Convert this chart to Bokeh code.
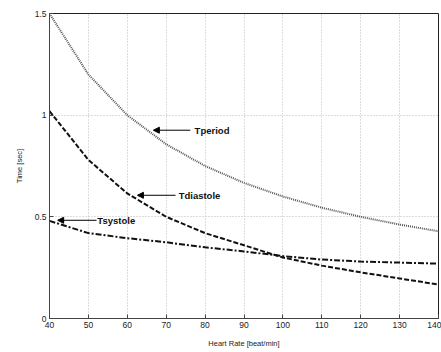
from bokeh.plotting import figure
from bokeh.models import Arrow, NormalHead, Label, FixedTicker, Range1d
from bokeh.embed import file_html
from bokeh.resources import INLINE

# Cardiac cycle timing versus heart rate
heart_rate = [40, 50, 60, 70, 80, 90, 100, 110, 120, 130, 140]
t_period = [1.5, 1.2, 1.0, 0.857, 0.75, 0.667, 0.6, 0.545, 0.5, 0.462, 0.429]
t_systole = [0.48, 0.42, 0.395, 0.375, 0.35, 0.33, 0.307, 0.29, 0.28, 0.275, 0.27]
t_diastole = [1.02, 0.78, 0.615, 0.50, 0.42, 0.36, 0.30, 0.26, 0.227, 0.197, 0.167]

x_ticks = [40, 50, 60, 70, 80, 90, 100, 110, 120, 130, 140]
y_ticks = [0, 0.5, 1, 1.5]
y_tick_labels = {0: "0", 0.5: "0.5", 1: "1", 1.5: "1.5"}

# Callout labels: name, text x, arrow tail x, arrow head x, y
callouts = [
    ("Tperiod", 77.3, 76.2, 66.7, 0.926),
    ("Tdiastole", 73.2, 72.4, 62.6, 0.606),
    ("Tsystole", 52.3, 52.1, 42.1, 0.483),
]

FONT = "Liberation Sans"

p = figure(width=441, height=352, output_backend="svg", toolbar_location=None,
           x_range=Range1d(40, 140), y_range=Range1d(0, 1.5),
           min_border_left=49, min_border_right=3, min_border_top=13,
           min_border_bottom=34)
p.background_fill_color = "white"
p.border_fill_color = "white"
p.outline_line_color = "#222222"
p.outline_line_width = 1

p.xaxis.ticker = FixedTicker(ticks=x_ticks)
p.yaxis.ticker = FixedTicker(ticks=y_ticks)
p.yaxis.major_label_overrides = y_tick_labels

for ax in (p.xaxis, p.yaxis):
    ax.major_tick_in = 4
    ax.major_tick_out = 0
    ax.minor_tick_in = 2
    ax.minor_tick_out = 0
    ax.axis_line_color = "#444444"
    ax.major_tick_line_color = "#444444"
    ax.minor_tick_line_color = "#888888"
    ax.major_label_text_font = FONT
    ax.major_label_text_font_size = "8.5px"
    ax.major_label_text_color = "#222222"
    ax.axis_label_text_font = FONT
    ax.axis_label_text_font_size = "7.5px"
    ax.axis_label_text_font_style = "normal"
    ax.axis_label_text_color = "#222222"

p.xaxis.major_label_standoff = 3
p.yaxis.major_label_standoff = 3
p.xaxis.axis_label = "Heart Rate [beat/min]"
p.yaxis.axis_label = "Time [sec]"
p.xaxis.axis_label_standoff = 8
p.yaxis.axis_label_standoff = 8

p.grid.grid_line_color = "#bbbbbb"
p.grid.grid_line_dash = "1 2"
p.grid.grid_line_width = 1

p.line(heart_rate, t_period, line_color="#555555", line_width=2, line_dash="1 1")
p.line(heart_rate, t_diastole, line_color="#111111", line_width=2, line_dash="5 2")
p.line(heart_rate, t_systole, line_color="#111111", line_width=2, line_dash="6 2 2 2")

for name, tx, x0, x1, y in callouts:
    p.add_layout(Arrow(end=NormalHead(size=6, fill_color="black", line_color="black"),
                       x_start=x0, y_start=y, x_end=x1, y_end=y,
                       line_color="black", line_width=1))
    p.add_layout(Label(x=tx, y=y, text=name, text_font=FONT, text_font_size="9.5px",
                       text_font_style="bold", text_color="#111111",
                       text_baseline="middle", text_align="left"))

open("out.html", "w").write(file_html(p, INLINE))
